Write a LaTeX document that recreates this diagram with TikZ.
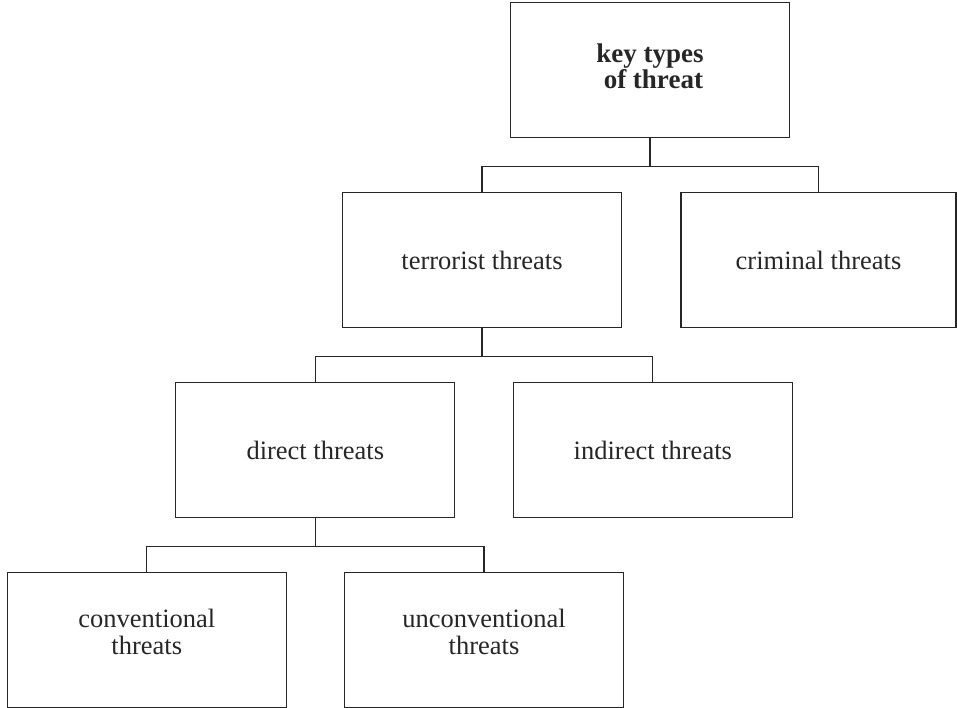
\documentclass[tikz,border=0pt]{standalone}
\usepackage{fontspec}
\setmainfont{Liberation Serif}
\begin{document}
\begin{tikzpicture}[x=1pt,y=-1pt,
  box/.style={draw=black!85, line width=1.1pt, rectangle, minimum width=279pt, minimum height=134.5pt,
    inner sep=0pt, align=center, font=\fontsize{26.5}{27}\selectfont, text=black!85},
  twoline/.style={text depth=17pt},
  link/.style={draw=black!85, line width=1.1pt}]
\useasboundingbox (0,0) rectangle (957,708);
\node[box, font=\fontsize{27}{26.6}\selectfont\bfseries, text depth=8pt] (key) at (650,70) {key types\\ \ of threat};
\node[box] (ter) at (482,260) {terrorist threats};
\node[box, minimum width=275pt] (cri) at (818.5,260) {criminal threats};
\node[box] (dir) at (315.3,450) {direct threats};
\node[box] (ind) at (652.8,450) {indirect threats};
\node[box, twoline] (con) at (146.8,640) {conventional\\threats};
\node[box, twoline] (unc) at (484,640) {unconventional\\threats};
\draw[link] (key.south) -- ++(0,28.5) -| (ter.north);
\draw[link] (key.south) -- ++(0,28.5) -| (cri.north);
\draw[link] (ter.south) -- ++(0,28.5) -| (dir.north);
\draw[link] (ter.south) -- ++(0,28.5) -| (ind.north);
\draw[link] (dir.south) -- ++(0,28.5) -| (con.north);
\draw[link] (dir.south) -- ++(0,28.5) -| (unc.north);
\end{tikzpicture}
\end{document}
